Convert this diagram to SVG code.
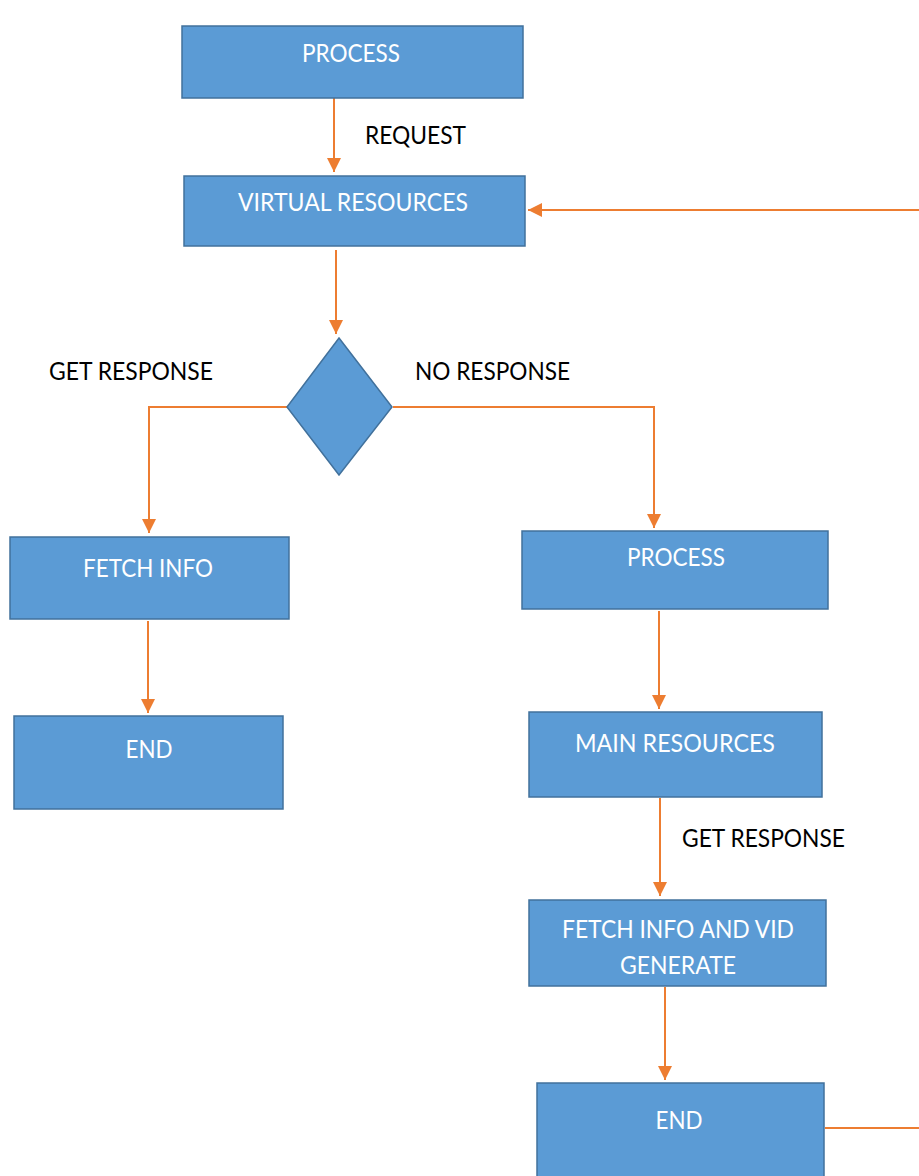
<svg xmlns="http://www.w3.org/2000/svg" width="919" height="1176" viewBox="0 0 919 1176">
<defs>
<marker id="ah" markerWidth="14" markerHeight="14" viewBox="0 0 14 14" refX="14" refY="7" orient="auto" markerUnits="userSpaceOnUse">
<path d="M0,0 L14,7 L0,14 Z" fill="#ED7D31"/>
</marker>
<style>
.box{fill:#5B9BD5;stroke:#41719C;stroke-width:1.5}
.lbl{font-family:Lato,"Liberation Sans",sans-serif;font-size:25px;fill:#FFFFFF;text-anchor:middle}
.cap{font-family:Lato,"Liberation Sans",sans-serif;font-size:25px;fill:#000000}
.con{fill:none;stroke:#ED7D31;stroke-width:2}
</style>
</defs>
<rect width="919" height="1176" fill="#FFFFFF"/>
<g id="connectors">
<path class="con" d="M334,98 V172" marker-end="url(#ah)"/>
<path class="con" d="M919,210 H528" marker-end="url(#ah)"/>
<path class="con" d="M336,250 V334" marker-end="url(#ah)"/>
<path class="con" d="M287,407 H149 V533" marker-end="url(#ah)"/>
<path class="con" d="M393,407 H654 V528" marker-end="url(#ah)"/>
<path class="con" d="M148,621 V713" marker-end="url(#ah)"/>
<path class="con" d="M659,611 V709" marker-end="url(#ah)"/>
<path class="con" d="M660,798 V896" marker-end="url(#ah)"/>
<path class="con" d="M665,987 V1080" marker-end="url(#ah)"/>
<path class="con" d="M825,1128 H919"/>
</g>
<g id="labels">
<text class="cap" x="365" y="144" textLength="101" lengthAdjust="spacingAndGlyphs">REQUEST</text>
<text class="cap" x="49" y="380" textLength="164" lengthAdjust="spacingAndGlyphs">GET RESPONSE</text>
<text class="cap" x="415" y="380" textLength="155" lengthAdjust="spacingAndGlyphs">NO RESPONSE</text>
<text class="cap" x="682" y="847" textLength="163" lengthAdjust="spacingAndGlyphs">GET RESPONSE</text>
</g>
<g id="process1">
<rect class="box" x="182" y="26" width="341" height="72"/>
<text class="lbl" x="351" y="62" textLength="98" lengthAdjust="spacingAndGlyphs">PROCESS</text>
</g>
<g id="virtual-resources">
<rect class="box" x="184" y="176" width="341" height="70"/>
<text class="lbl" x="353" y="211" textLength="230" lengthAdjust="spacingAndGlyphs">VIRTUAL RESOURCES</text>
</g>
<g id="decision">
<polygon class="box" points="339,338 392,407 339,475 287,407"/>
</g>
<g id="fetch-info">
<rect class="box" x="10" y="537" width="279" height="82"/>
<text class="lbl" x="148" y="577" textLength="130" lengthAdjust="spacingAndGlyphs">FETCH INFO</text>
</g>
<g id="end1">
<rect class="box" x="14" y="716" width="269" height="93"/>
<text class="lbl" x="149" y="758" textLength="47" lengthAdjust="spacingAndGlyphs">END</text>
</g>
<g id="process2">
<rect class="box" x="522" y="531" width="306" height="78"/>
<text class="lbl" x="676" y="566" textLength="98" lengthAdjust="spacingAndGlyphs">PROCESS</text>
</g>
<g id="main-resources">
<rect class="box" x="529" y="712" width="293" height="85"/>
<text class="lbl" x="675" y="752" textLength="200" lengthAdjust="spacingAndGlyphs">MAIN RESOURCES</text>
</g>
<g id="fetch-info-vid">
<rect class="box" x="529" y="900" width="297" height="86"/>
<text class="lbl" x="678" y="938" textLength="232" lengthAdjust="spacingAndGlyphs">FETCH INFO AND VID</text>
<text class="lbl" x="678" y="974" textLength="116" lengthAdjust="spacingAndGlyphs">GENERATE</text>
</g>
<g id="end2">
<rect class="box" x="537" y="1083" width="287" height="100"/>
<text class="lbl" x="679" y="1129" textLength="47" lengthAdjust="spacingAndGlyphs">END</text>
</g>
</svg>
